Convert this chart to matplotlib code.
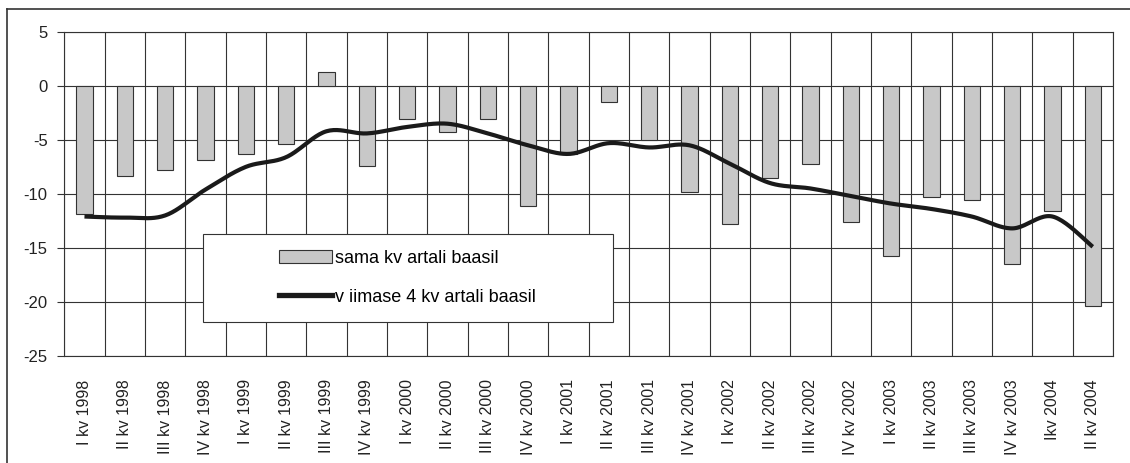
import numpy as np
import matplotlib
matplotlib.use('Agg')
import matplotlib.pyplot as plt
from matplotlib.patches import Rectangle, Patch
from matplotlib.lines import Line2D

plt.rcParams['font.family'] = ['Liberation Sans', 'DejaVu Sans']
plt.rcParams['axes.unicode_minus'] = False

quarters = ['I kv 1998', 'II kv 1998', 'III kv 1998', 'IV kv 1998',
            'I kv 1999', 'II kv 1999', 'III kv 1999', 'IV kv 1999',
            'I kv 2000', 'II kv 2000', 'III kv 2000', 'IV kv 2000',
            'I kv 2001', 'II kv 2001', 'III kv 2001', 'IV kv 2001',
            'I kv 2002', 'II kv 2002', 'III kv 2002', 'IV kv 2002',
            'I kv 2003', 'II kv 2003', 'III kv 2003', 'IV kv 2003',
            'Ikv 2004', 'II kv 2004']

# same quarter basis (bars)
same_q = [-11.9, -8.3, -7.8, -6.9, -6.3, -5.4, 1.3, -7.4,
          -3.1, -4.3, -3.1, -11.1, -6.3, -1.5, -5.0, -9.8,
          -12.8, -8.5, -7.2, -12.6, -15.8, -10.3, -10.6, -16.5,
          -11.6, -20.4]

# last 4 quarters basis (line)
last4 = [-12.1, -12.2, -12.0, -9.6, -7.5, -6.6, -4.2, -4.4,
         -3.8, -3.5, -4.4, -5.5, -6.3, -5.3, -5.7, -5.5,
         -7.2, -9.0, -9.5, -10.2, -10.9, -11.4, -12.1, -13.2,
         -12.1, -14.9]

label_bars = 'sama kv artali baasil'
label_line = 'v iimase 4 kv artali baasil'


def smooth(xs, ys, n=24):
    # catmull-rom, roughly what excel does for smoothed lines
    p = np.column_stack([xs, ys]).astype(float)
    p = np.vstack([p[0], p, p[-1]])
    out = []
    t = np.linspace(0, 1, n)[:, None]
    for i in range(1, len(p) - 2):
        p0, p1, p2, p3 = p[i - 1], p[i], p[i + 1], p[i + 2]
        seg = 0.5 * ((2 * p1) + (-p0 + p2) * t +
                     (2 * p0 - 5 * p1 + 4 * p2 - p3) * t ** 2 +
                     (-p0 + 3 * p1 - 3 * p2 + p3) * t ** 3)
        out.append(seg if i == 1 else seg[1:])
    out = np.vstack(out)
    return out[:, 0], out[:, 1]


fig = plt.figure(figsize=(11.3, 4.63), dpi=100)
ax = fig.add_axes([0.0569, 0.2317, 0.928, 0.6992])

x = np.arange(len(quarters))
grid_c = '#333333'

ax.bar(x, same_q, width=0.4, color='#c8c8c8', edgecolor='#333333',
       linewidth=0.8, zorder=2)
sx, sy = smooth(x, last4)
ax.plot(sx, sy, color='#1a1a1a', lw=3.0, solid_capstyle='butt', zorder=3)

ax.set_xlim(-0.5, len(quarters) - 0.5)
ax.set_ylim(-25, 5)
ax.set_yticks(np.arange(-25, 6, 5))
ax.set_xticks(x)
ax.set_xticklabels(quarters, rotation=90, fontsize=11.5, color='#222222')
ax.set_xticks(np.arange(-0.5, len(quarters)), minor=True)
ax.tick_params(axis='x', which='both', length=0, pad=17)
ax.tick_params(axis='y', length=5, width=0.8, color=grid_c, labelsize=12,
               labelcolor='#222222', pad=7)
ax.grid(axis='y', color=grid_c, lw=0.8, zorder=1)
ax.grid(axis='x', which='minor', color=grid_c, lw=0.8, zorder=1)
ax.set_axisbelow(True)
for s in ax.spines.values():
    s.set_color(grid_c)
    s.set_linewidth(0.8)

# legend box
ax.add_patch(Rectangle((0.132, 0.105), 0.391, 0.271, transform=ax.transAxes,
                       facecolor='white', edgecolor='#333333', lw=0.8,
                       zorder=4))
handles = [Patch(facecolor='#c8c8c8', edgecolor='#333333', lw=0.8),
           Line2D([], [], color='#1a1a1a', lw=3.8)]
leg = ax.legend(handles, [label_bars, label_line], loc='center',
                bbox_to_anchor=(0.3275, 0.2405), frameon=False,
                fontsize=13, handlelength=2.9, handleheight=0.75,
                labelspacing=1.2, handletextpad=0.2)
leg.set_zorder(5)

# outer chart frame
fig.add_artist(Line2D([0.0062, 0.0062], [0, 0.9806], color='#333333', lw=1.2))
fig.add_artist(Line2D([0.0062, 1], [0.9806, 0.9806], color='#333333', lw=1.2))

fig.savefig('out.png', dpi=100)
